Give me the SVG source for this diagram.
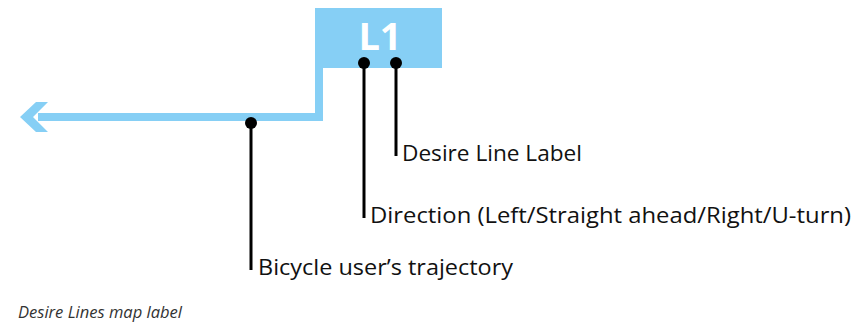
<svg xmlns="http://www.w3.org/2000/svg" width="855" height="325" viewBox="0 0 855 325">
  <style>
    .route { fill: none; stroke: #86cff5; stroke-width: 8; }
    .blue { fill: #86cff5; }
    .leader { stroke: #000; stroke-width: 3; fill: none; }
    .dot { fill: #000; }
    .lbl { font-family: "Open Sans", "Liberation Sans", sans-serif; font-size: 22px; fill: #111; }
    .caption { font-family: "Open Sans", "Liberation Sans", sans-serif; font-size: 16px; font-style: italic; fill: #333; }
  </style>
  <rect width="855" height="325" fill="#fff"/>

  <!-- map label box -->
  <g id="label-box">
    <rect class="blue" x="315" y="8" width="127" height="60"/>
    <text x="380" y="50" text-anchor="middle" font-family="'Open Sans', 'Liberation Sans', sans-serif" font-weight="bold" font-size="38" fill="#fff">L1</text>
  </g>

  <!-- cyclist path with arrowhead -->
  <g id="trajectory">
    <polyline class="route" points="38,117 319,117 319,66"/>
    <polygon class="blue" points="20,117 36,102 48,102 33,117 48,132 36,132"/>
  </g>

  <g id="connectors">
    <line class="leader" x1="364" y1="63" x2="364" y2="218"/>
    <line class="leader" x1="396" y1="63" x2="396" y2="156"/>
    <line class="leader" x1="251" y1="123" x2="251" y2="270"/>
    <circle class="dot" cx="364" cy="63" r="6"/>
    <circle class="dot" cx="396" cy="63" r="6"/>
    <circle class="dot" cx="251" cy="123" r="6"/>
  </g>

  <g id="label-desire">
    <text class="lbl" x="402" y="161" textLength="180" lengthAdjust="spacingAndGlyphs">Desire Line Label</text>
  </g>
  <g id="label-direction">
    <text class="lbl" x="370" y="223" textLength="481" lengthAdjust="spacingAndGlyphs">Direction (Left/Straight ahead/Right/U-turn)</text>
  </g>
  <g id="label-trajectory">
    <text class="lbl" x="258" y="275" textLength="255" lengthAdjust="spacingAndGlyphs">Bicycle user’s trajectory</text>
  </g>

  <text class="caption" x="18" y="318" textLength="164" lengthAdjust="spacingAndGlyphs">Desire Lines map label</text>
</svg>
